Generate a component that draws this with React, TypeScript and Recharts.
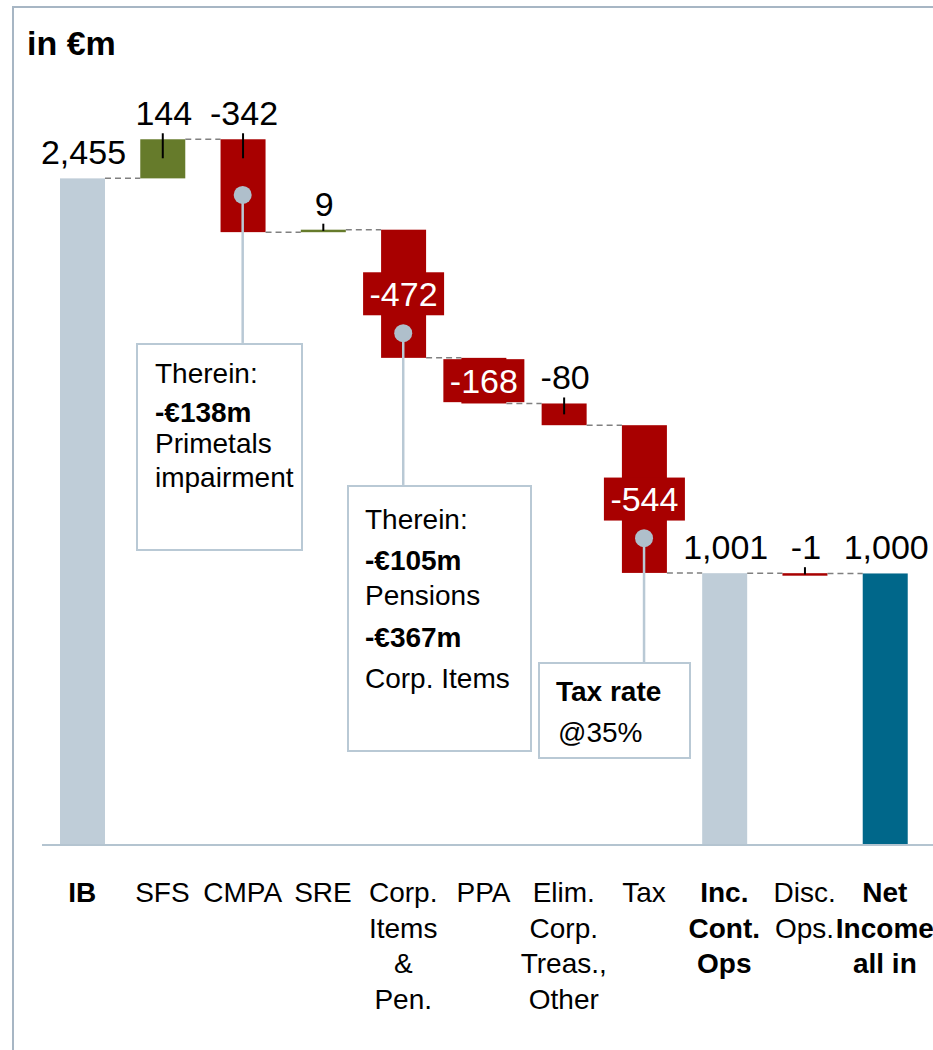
import React from 'react';
import { BarChart, Bar, XAxis, YAxis, ReferenceDot, ReferenceLine } from 'recharts';

// ---------- data ----------
const categories = ['IB', 'SFS', 'CMPA', 'SRE', 'Corp. Items & Pen.', 'PPA', 'Elim. Corp. Treas., Other', 'Tax', 'Inc. Cont. Ops', 'Disc. Ops.', 'Net Income all in'];
const tickLines = [['IB'], ['SFS'], ['CMPA'], ['SRE'], ['Corp.', 'Items', '&', 'Pen.'], ['PPA'], ['Elim.', 'Corp.', 'Treas.,', 'Other'], ['Tax'], ['Inc.', 'Cont.', 'Ops'], ['Disc.', 'Ops.'], ['Net', 'Income', 'all in']];
const boldTicks = [true, false, false, false, false, false, false, false, true, false, true];
const values = [2455, 144, -342, 9, -472, -168, -80, -544, 1001, -1, 1000];
const kinds = ['total', 'delta', 'delta', 'delta', 'delta', 'delta', 'delta', 'delta', 'total', 'delta', 'total'];
const labelPlacement = ['above', 'tick', 'tick', 'tick', 'inside', 'inside', 'tick', 'inside', 'above', 'tick', 'above'];
const barColors = ['#BFCDD8', '#667B2B', '#A80000', '#667B2B', '#A80000', '#A80000', '#A80000', '#A80000', '#BFCDD8', '#A80000', '#00678A'];

// annotation callouts (category, dot level, line end level in €m)
const annoCats = ['CMPA', 'Corp. Items & Pen.', 'Tax'];
const annoDot = [2394, 1885, 1130];
const annoLineEnd = [1849, 1326, 674];

// ---------- layout ----------
const W = 933;
const H = 1050;
const MARGIN = { top: 139, right: 8, bottom: 175, left: 42 };
const BAND = (W - MARGIN.left - MARGIN.right) / categories.length;
const FONT = 'Liberation Sans, Arial, Helvetica, sans-serif';

let run = 0;
const data = categories.map((name, i) => {
  const v = values[i];
  let base: number;
  let h: number;
  if (kinds[i] === 'total') {
    base = 0;
    h = v;
    run = v;
  } else {
    if (v >= 0) {
      base = run;
      h = v;
    } else {
      base = run + v;
      h = -v;
    }
    run += v;
  }
  return { name, base, bar: h, value: v, i };
});

const fmt = (v: number) => v.toLocaleString('en-US');

function WaterfallShape(props: any) {
  const { x, y, width, height, payload } = props;
  const i = payload.i;
  const color = barColors[i];
  const h = Math.max(height, 2.5);
  const cx = x + width / 2;
  const neg = kinds[i] === 'delta' && values[i] < 0;
  const endY = neg ? y + height : y;
  const gap = BAND - width;
  const placement = labelPlacement[i];
  const cy = y + height / 2;
  return (
    <g>
      <rect x={x} y={y} width={width} height={h} fill={color} />
      {i < categories.length - 1 && (
        <line x1={x + width} x2={x + width + gap} y1={endY} y2={endY} stroke="#808080" strokeWidth={1.5} strokeDasharray="6 4" />
      )}
      {placement === 'inside' ? (
        <g>
          <rect x={cx - 40.5} y={cy - 21.5} width={81} height={43} fill={color} />
          <text x={cx} y={cy + 12} textAnchor="middle" fill="#ffffff" fontSize={34} fontFamily={FONT}>
            {fmt(values[i])}
          </text>
        </g>
      ) : (
        <g>
          <text x={cx + 1} y={y - 14} textAnchor="middle" fill="#000000" fontSize={34} fontFamily={FONT}>
            {fmt(values[i])}
          </text>
          {placement === 'tick' && (
            <line x1={cx} x2={cx} y1={y - 6} y2={Math.min(y + h / 2, y + 19)} stroke="#000" strokeWidth={2} />
          )}
        </g>
      )}
    </g>
  );
}

function CategoryTick(props: any) {
  const { x, y, payload } = props;
  const idx = payload.index;
  const lines = tickLines[idx] || [String(payload.value)];
  return (
    <text x={x} textAnchor="middle" fontSize={28} fontFamily={FONT} fill="#000" fontWeight={boldTicks[idx] ? 'bold' : 'normal'}>
      {lines.map((l, k) => (
        <tspan key={k} x={x} y={y + 57 + k * 35.5}>
          {l}
        </tspan>
      ))}
    </text>
  );
}

const boxStroke = '#B9C9D5';

export default function App() {
  return (
    <div style={{ position: 'absolute', left: 0, top: 0, width: W, height: H, overflow: 'hidden', background: '#fff' }}>
      <div style={{ position: 'absolute', left: 12, top: 6, width: 1000, height: 1100, border: '2px solid #A7B6C4', boxSizing: 'border-box' }} />
      <div style={{ position: 'absolute', left: 0, top: 0 }}>
        <BarChart width={W} height={H} data={data} margin={MARGIN} barCategoryGap={0} barGap={0}>
          <XAxis
            dataKey="name"
            interval={0}
            tickLine={false}
            tickSize={0}
            tickMargin={0}
            axisLine={{ stroke: '#B4C4D0', strokeWidth: 2 }}
            tick={<CategoryTick />}
          />
          <YAxis hide domain={[0, 2600]} />
          <Bar dataKey="base" stackId="w" fill="transparent" barSize={45} isAnimationActive={false} />
          <Bar dataKey="bar" stackId="w" barSize={45} isAnimationActive={false} shape={<WaterfallShape />} />
          {annoCats.map((c, k) => (
            <ReferenceLine
              key={'l' + k}
              segment={[
                { x: c, y: annoDot[k] },
                { x: c, y: annoLineEnd[k] },
              ]}
              stroke={boxStroke}
              strokeWidth={2.5}
            />
          ))}
          {annoCats.map((c, k) => (
            <ReferenceDot key={'d' + k} x={c} y={annoDot[k]} r={9} fill="#AFBFCB" stroke="none" />
          ))}
        </BarChart>
      </div>
      <svg width={W} height={H} style={{ position: 'absolute', left: 0, top: 0, pointerEvents: 'none' }} fontFamily={FONT}>
        <line x1={W - MARGIN.right - 1} x2={W} y1={H - MARGIN.bottom - 30} y2={H - MARGIN.bottom - 30} stroke="#B4C4D0" strokeWidth={2} />
        <text x={27} y={55} fontSize={34} fontWeight="bold" fill="#000">in €m</text>

        <rect x={137} y={344} width={165} height={206} fill="#fff" stroke={boxStroke} strokeWidth={2} />
        <text x={155} y={383} fontSize={28} fill="#000">Therein:</text>
        <text x={155} y={422} fontSize={28} fontWeight="bold" fill="#000">-€138m</text>
        <text x={155} y={453} fontSize={28} fill="#000">Primetals</text>
        <text x={155} y={487} fontSize={28} fill="#000">impairment</text>

        <rect x={348} y={486} width={183} height={265} fill="#fff" stroke={boxStroke} strokeWidth={2} />
        <text x={365} y={529} fontSize={28} fill="#000">Therein:</text>
        <text x={365} y={570} fontSize={28} fontWeight="bold" fill="#000">-€105m</text>
        <text x={365} y={605} fontSize={28} fill="#000">Pensions</text>
        <text x={365} y={647} fontSize={28} fontWeight="bold" fill="#000">-€367m</text>
        <text x={365} y={688} fontSize={28} fill="#000">Corp. Items</text>

        <rect x={539} y={663} width={151} height={95} fill="#fff" stroke={boxStroke} strokeWidth={2} />
        <text x={556} y={701} fontSize={28} fontWeight="bold" fill="#000">Tax rate</text>
        <text x={558} y={742} fontSize={28} fill="#000">@35%</text>
      </svg>
    </div>
  );
}
